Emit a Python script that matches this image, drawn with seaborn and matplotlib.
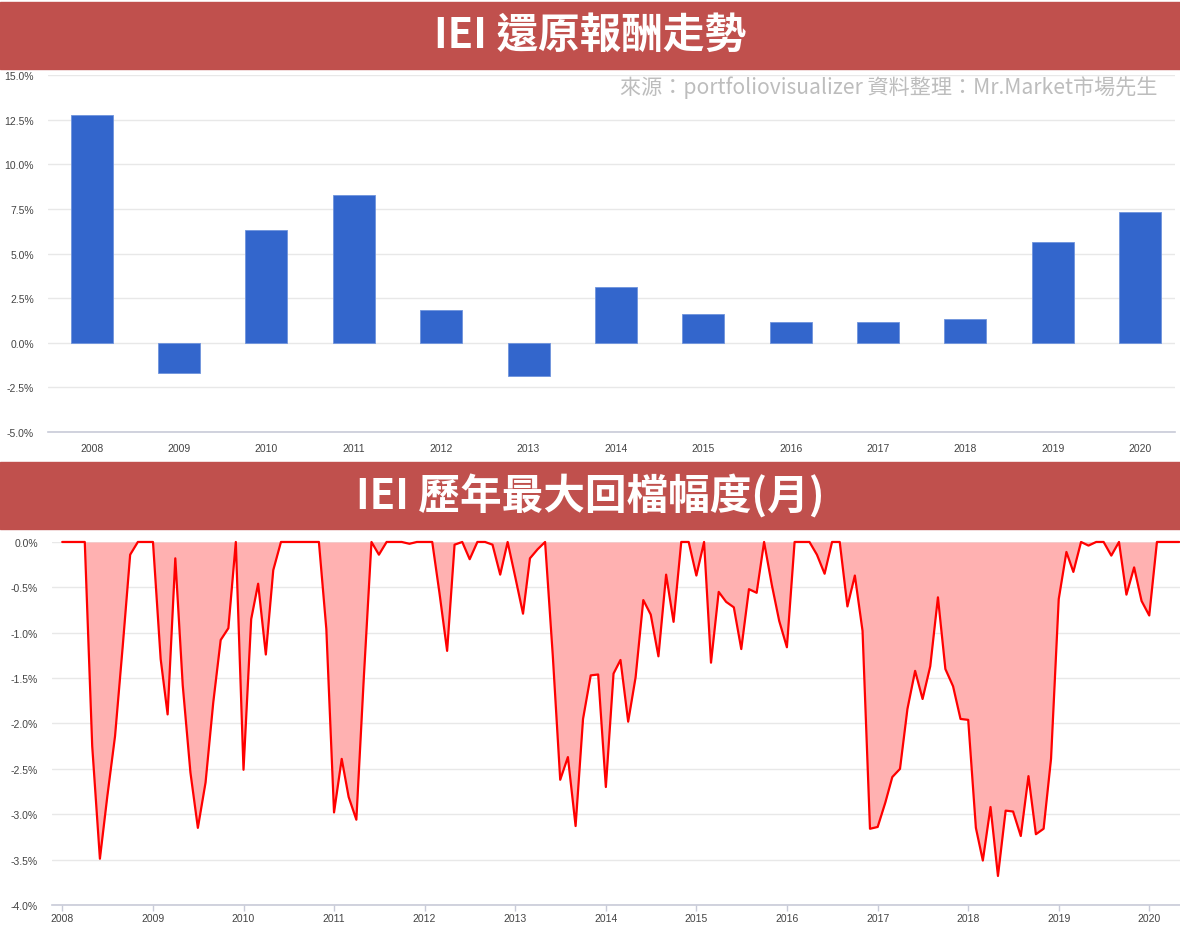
"""
plot.py
-------
IEI yearly total return (bars) and monthly drawdown (area) chart.
"""

import pandas as pd
import matplotlib.pyplot as plt
import seaborn as sns
from matplotlib.patches import Rectangle
from matplotlib.ticker import FuncFormatter

# yearly total return, %
years = ["2008", "2009", "2010", "2011", "2012", "2013", "2014",
         "2015", "2016", "2017", "2018", "2019", "2020"]
returns = [12.74, -1.69, 6.31, 8.26, 1.84, -1.85, 3.15,
           1.59, 1.18, 1.18, 1.33, 5.67, 7.32]

# monthly drawdown, %, starting Jan 2008
start_month = "2008-01-01"
drawdown = [
    0.00, 0.00, 0.00, 0.00, -2.25, -3.49, -2.80, -2.14, -1.15, -0.14, 0.00, 0.00,   # 2008
    0.00, -1.29, -1.90, -0.18, -1.58, -2.54, -3.15, -2.65, -1.77, -1.08, -0.95, 0.00,  # 2009
    -2.51, -0.85, -0.46, -1.24, -0.31, 0.00, 0.00, 0.00, 0.00, 0.00, 0.00, -0.96,   # 2010
    -2.98, -2.39, -2.81, -3.06, -1.50, 0.00, -0.14, 0.00, 0.00, 0.00, -0.02, 0.00,  # 2011
    0.00, 0.00, -0.56, -1.20, -0.03, 0.00, -0.19, 0.00, 0.00, -0.03, -0.36, 0.00,   # 2012
    -0.39, -0.79, -0.18, -0.08, 0.00, -1.25, -2.62, -2.37, -3.13, -1.95, -1.47, -1.46,  # 2013
    -2.70, -1.45, -1.30, -1.98, -1.49, -0.64, -0.80, -1.26, -0.36, -0.88, 0.00, 0.00,  # 2014
    -0.37, 0.00, -1.33, -0.55, -0.66, -0.72, -1.18, -0.52, -0.56, 0.00, -0.47, -0.87,  # 2015
    -1.16, 0.00, 0.00, 0.00, -0.14, -0.35, 0.00, 0.00, -0.71, -0.37, -0.98, -3.16,  # 2016
    -3.14, -2.87, -2.59, -2.50, -1.84, -1.42, -1.73, -1.37, -0.61, -1.40, -1.59, -1.95,  # 2017
    -1.96, -3.15, -3.51, -2.92, -3.68, -2.96, -2.97, -3.24, -2.58, -3.22, -3.16, -2.39,  # 2018
    -0.63, -0.11, -0.33, 0.00, -0.04, 0.00, 0.00, -0.15, 0.00, -0.58, -0.28, -0.65,  # 2019
    -0.81, 0.00, 0.00, 0.00, 0.00,  # 2020
]

bar_ticks = [-5.0, -2.5, 0.0, 2.5, 5.0, 7.5, 10.0, 12.5, 15.0]
dd_ticks = [-4.0, -3.5, -3.0, -2.5, -2.0, -1.5, -1.0, -0.5, 0.0]

TITLE_TOP = "IEI 還原報酬走勢"
TITLE_BOTTOM = "IEI 歷年最大回檔幅度(月)"
SOURCE = "來源：portfoliovisualizer 資料整理：Mr.Market市場先生"

BANNER = "#C0504D"
GRID = "#e8e8e8"
AXIS = "#c8cbd8"
TICK = "#444444"
CJK = ["Noto Sans CJK TC", "DejaVu Sans"]


def pct(v, _):
    return f"{v:.1f}%"


def style_axis(ax):
    sns.despine(ax=ax, left=True, right=True, top=True)
    ax.spines["bottom"].set_color(AXIS)
    ax.spines["bottom"].set_linewidth(1.2)
    ax.grid(axis="y", color=GRID, linewidth=1)
    ax.set_axisbelow(True)
    ax.yaxis.set_major_formatter(FuncFormatter(pct))
    ax.tick_params(axis="y", length=0, labelsize=7.5, labelcolor=TICK, pad=10)
    ax.set_xlabel("")
    ax.set_ylabel("")


def main():
    sns.set_theme(style="white")
    plt.rcParams["font.family"] = ["Arial", "Liberation Sans", "DejaVu Sans"]

    fig = plt.figure(figsize=(11.8, 9.28), dpi=100)

    # red title banners
    for y0 in (0.9246, 0.4289):
        fig.add_artist(Rectangle((0, y0), 1, 0.0722, transform=fig.transFigure,
                                 color=BANNER, zorder=0))
    fig.text(0.5, 0.961, TITLE_TOP, ha="center", va="center", color="white",
             fontsize=30, fontweight="bold", family=CJK)
    fig.text(0.5, 0.465, TITLE_BOTTOM, ha="center", va="center", color="white",
             fontsize=30, fontweight="bold", family=CJK)

    # top: yearly returns
    ax1 = fig.add_axes([0.0407, 0.5334, 0.9551, 0.3846])
    bars = pd.DataFrame({"year": years, "ret": returns})
    sns.barplot(data=bars, x="year", y="ret", color="#3366CC", saturation=1,
                width=0.48, edgecolor="#6f93dc", linewidth=0.6, ax=ax1)
    ax1.set_ylim(-5, 15)
    ax1.set_yticks(bar_ticks)
    ax1.set_xlim(-0.5, 12.4)
    style_axis(ax1)
    ax1.tick_params(axis="x", length=0, labelsize=7.5, labelcolor=TICK, pad=8)

    fig.text(0.981, 0.906, SOURCE, ha="right", va="center", color="#bdbdbd",
             fontsize=15.2, family=CJK)

    # bottom: monthly drawdown
    ax2 = fig.add_axes([0.0441, 0.0237, 0.9559, 0.3912])
    dd = pd.DataFrame({
        "month": pd.date_range(start=start_month, periods=len(drawdown), freq="MS"),
        "dd": drawdown,
    })
    ax2.fill_between(dd["month"], dd["dd"], 0, color="#ffb1b1", linewidth=0)
    sns.lineplot(data=dd, x="month", y="dd", color="#ff0000", linewidth=1.6,
                 ax=ax2, clip_on=False)
    ax2.set_ylim(-4, 0)
    ax2.set_yticks(dd_ticks)
    ax2.set_xlim(pd.Timestamp("2007-11-21"), pd.Timestamp("2020-05-04"))
    year_starts = pd.date_range("2008-01-01", "2020-01-01", freq="YS")
    ax2.set_xticks(year_starts)
    ax2.set_xticklabels([str(d.year) for d in year_starts])
    style_axis(ax2)
    ax2.tick_params(axis="x", bottom=True, length=4, width=1, color=AXIS,
                    labelsize=7.5, labelcolor=TICK, pad=2)

    fig.savefig("out.png", dpi=100)
    plt.close(fig)


if __name__ == "__main__":
    main()
